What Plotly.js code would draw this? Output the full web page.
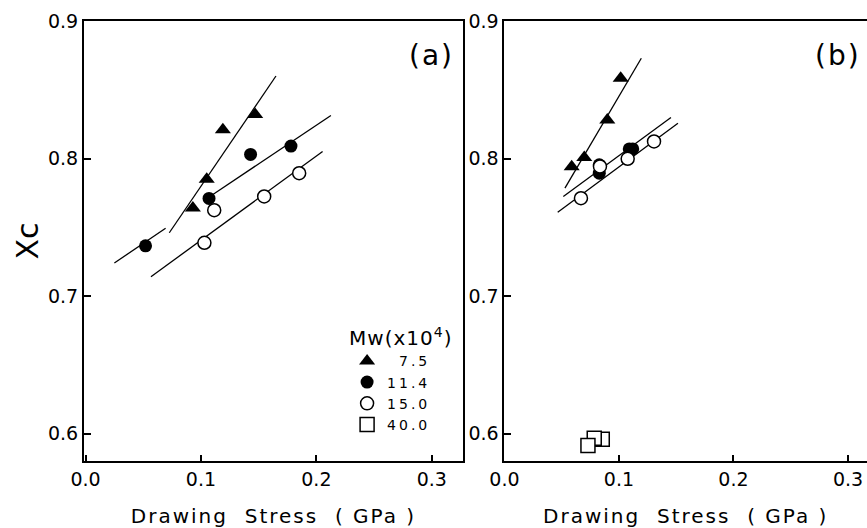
<!DOCTYPE html>
<html>
<head>
<meta charset="utf-8">
<script src="https://cdn.plot.ly/plotly-3.0.1.min.js"></script>
<style>
html, body { margin: 0; padding: 0; background: #fff; overflow: hidden; }
#chart { width: 867px; height: 528px; }
.xtitle, .x2title { letter-spacing: 2px; }
.legendtext { letter-spacing: 3px; }
.legendtitletext { letter-spacing: 1px; }
.annotation-text { letter-spacing: 2px; }
</style>
</head>
<body>
<div id="chart"></div>
<script>
// ---------- Panel (a) data ----------
const aTriX = [0.093, 0.105, 0.119, 0.147];
const aTriY = [0.764, 0.785, 0.821, 0.832];
const aTriLineX = [0.0726, 0.165];
const aTriLineY = [0.746, 0.860];

const aFillX = [0.052, 0.107, 0.143, 0.178];
const aFillY = [0.7365, 0.771, 0.803, 0.809];
const aFillLine1X = [0.025, 0.0694];
const aFillLine1Y = [0.724, 0.7493];
const aFillLine2X = [0.1107, 0.2126];
const aFillLine2Y = [0.774, 0.8313];

const aOpenX = [0.103, 0.1115, 0.1548, 0.1851];
const aOpenY = [0.7387, 0.7624, 0.7724, 0.7893];
const aOpenLineX = [0.0567, 0.2054];
const aOpenLineY = [0.714, 0.8051];

// ---------- Panel (b) data ----------
const bTriX = [0.0587, 0.0697, 0.0898, 0.1015];
const bTriY = [0.794, 0.8007, 0.828, 0.8584];
const bTriLineX = [0.0528, 0.1195];
const bTriLineY = [0.7784, 0.8729];

const bFillX = [0.0828, 0.0828, 0.109, 0.112];
const bFillY = [0.7954, 0.7893, 0.807, 0.807];
const bFillLineX = [0.0514, 0.1454];
const bFillLineY = [0.7724, 0.8298];

const bOpenX = [0.0668, 0.0834, 0.1076, 0.1306];
const bOpenY = [0.7711, 0.7942, 0.7998, 0.8124];
const bOpenLineX = [0.0465, 0.1515];
const bOpenLineY = [0.7609, 0.8257];

// squares listed back-to-front
const bSqX = [0.0854, 0.0784, 0.0729];
const bSqY = [0.5959, 0.5966, 0.5913];

// ---------- Labels ----------
const legendNames = ["\u20077.5", "11.4", "15.0", "40.0"];
const legendTitle = "Mw(x10<sup>4</sup>)";
const xTitle = "Drawing\u00a0\u00a0Stress\u00a0\u00a0(\u00a0GPa\u00a0)";
const yTitle = "Xc";
const panelLabels = ["(a)", "(b)"];
const xTickVals = [0.0, 0.1, 0.2, 0.3];
const yTickVals = [0.6, 0.7, 0.8, 0.9];

const FONT = "DejaVu Sans, sans-serif";
const lineStyle = {color: "#000", width: 1.3};

function lineTrace(x, y, xa, ya) {
  return {x: x, y: y, mode: "lines", line: lineStyle, xaxis: xa, yaxis: ya,
          showlegend: false, hoverinfo: "skip"};
}
const triMarker = {symbol: "triangle-up", size: 14, color: "#000"};
const fillMarker = {symbol: "circle", size: 13, color: "#000"};
const openMarker = {symbol: "circle", size: 13, color: "#fff", line: {color: "#000", width: 1.5}};
const sqMarker = {symbol: "square", size: 14, color: "#fff", line: {color: "#000", width: 1.5}};

const traces = [
  lineTrace(aTriLineX, aTriLineY, "x", "y"),
  lineTrace(aFillLine1X, aFillLine1Y, "x", "y"),
  lineTrace(aFillLine2X, aFillLine2Y, "x", "y"),
  lineTrace(aOpenLineX, aOpenLineY, "x", "y"),
  lineTrace(bTriLineX, bTriLineY, "x2", "y2"),
  lineTrace(bFillLineX, bFillLineY, "x2", "y2"),
  lineTrace(bOpenLineX, bOpenLineY, "x2", "y2"),
  {x: aTriX, y: aTriY, mode: "markers", marker: triMarker, name: legendNames[0], legendrank: 1, xaxis: "x", yaxis: "y"},
  {x: aFillX, y: aFillY, mode: "markers", marker: fillMarker, name: legendNames[1], legendrank: 2, xaxis: "x", yaxis: "y"},
  {x: aOpenX, y: aOpenY, mode: "markers", marker: openMarker, name: legendNames[2], legendrank: 3, xaxis: "x", yaxis: "y"},
  {x: bTriX, y: bTriY, mode: "markers", marker: triMarker, showlegend: false, xaxis: "x2", yaxis: "y2"},
  {x: bFillX, y: bFillY, mode: "markers", marker: fillMarker, showlegend: false, xaxis: "x2", yaxis: "y2"},
  {x: bOpenX, y: bOpenY, mode: "markers", marker: openMarker, showlegend: false, xaxis: "x2", yaxis: "y2"},
  {x: bSqX, y: bSqY, mode: "markers", marker: sqMarker, name: legendNames[3], legendrank: 4, xaxis: "x2", yaxis: "y2"}
];

const xCommon = {
  tickvals: xTickVals, tickformat: ".1f", ticks: "inside", ticklen: 6, tickwidth: 2,
  tickcolor: "#000", showline: true, linecolor: "#000", linewidth: 2, mirror: true,
  showgrid: false, zeroline: false, automargin: false,
  tickfont: {family: FONT, size: 19, color: "#000"},
  title: {text: xTitle, font: {family: FONT, size: 20, color: "#000"}, standoff: 21}
};
const yCommon = {
  range: [0.58, 0.9], tickvals: yTickVals, tickformat: ".1f", ticks: "inside", ticklen: 7, tickwidth: 2,
  tickcolor: "#000", showline: true, linecolor: "#000", linewidth: 2,
  showgrid: false, zeroline: false, automargin: false,
  tickfont: {family: FONT, size: 19, color: "#000"}
};

const layout = {
  width: 867, height: 528,
  margin: {l: 84, r: 0, t: 21, b: 67},
  paper_bgcolor: "#fff", plot_bgcolor: "#fff",
  font: {family: FONT, color: "#000"},
  showlegend: true,
  legend: {
    x: 0.336, y: 0.322, xanchor: "left", yanchor: "top",
    bgcolor: "rgba(0,0,0,0)", borderwidth: 0,
    font: {family: FONT, size: 14, color: "#000"},
    title: {text: legendTitle, font: {family: FONT, size: 20, color: "#000"}},
    tracegroupgap: 0, itemwidth: 30
  },
  xaxis: Object.assign({}, xCommon, {domain: [0, 0.484], range: [-0.0013, 0.327], anchor: "y"}),
  yaxis: Object.assign({}, yCommon, {domain: [0, 1], anchor: "x", mirror: true,
    title: {text: yTitle, font: {family: FONT, size: 30, color: "#000"}, standoff: 0}}),
  xaxis2: Object.assign({}, xCommon, {domain: [0.537, 1], range: [0, 0.3166], anchor: "y2"}),
  yaxis2: Object.assign({}, yCommon, {domain: [0, 1], anchor: "x2", mirror: false}),
  annotations: [
    {text: panelLabels[0], xref: "x", yref: "y", x: 0.3, y: 0.875, showarrow: false,
     font: {family: FONT, size: 28, color: "#000"}},
    {text: panelLabels[1], xref: "x2", yref: "y2", x: 0.291, y: 0.875, showarrow: false,
     font: {family: FONT, size: 28, color: "#000"}}
  ]
};

Plotly.newPlot("chart", traces, layout, {displayModeBar: false, staticPlot: true});
</script>
</body>
</html>
